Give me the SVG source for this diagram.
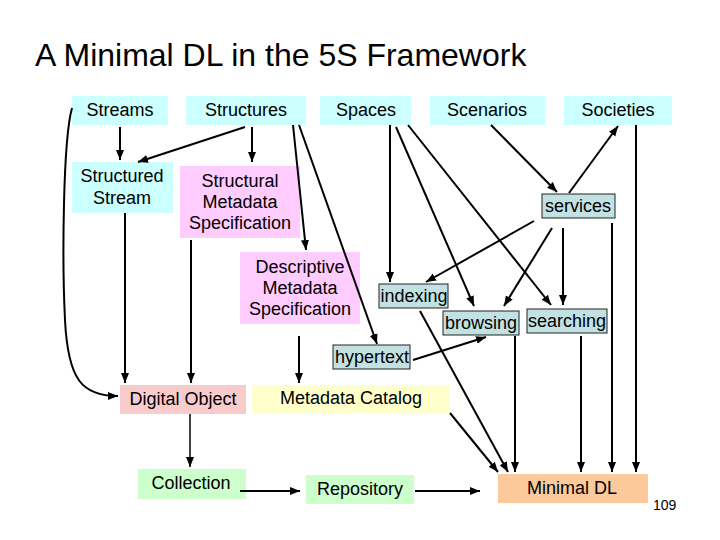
<svg xmlns="http://www.w3.org/2000/svg" width="720" height="540" viewBox="0 0 720 540">
<style>
text{font-family:"Liberation Sans",Arial,sans-serif;font-size:18px;fill:#000;text-anchor:middle}
.title{font-size:32px;text-anchor:start}
.pg{font-size:14px;text-anchor:start}
.s5{fill:#ccffff}
.svc{fill:#c2e1e3;stroke:#222;stroke-width:1}
.pink{fill:#ffccff}
.dobj{fill:#f9cccc}
.cat{fill:#ffffcc}
.grn{fill:#ccffcc}
.dl{fill:#fcc99b}
#connectors path{fill:none;stroke:#000;stroke-width:2;marker-end:url(#ah)}
</style>
<defs>
<marker id="ah" markerUnits="userSpaceOnUse" markerWidth="10" markerHeight="10" viewBox="0 0 10 10" refX="10" refY="5" orient="auto">
<path d="M0,1 L10,5 L0,9 z" fill="#000"/>
</marker>
</defs>
<rect width="720" height="540" fill="#fff"/>
<text class="title" x="35" y="66">A Minimal DL in the 5S Framework</text>

<g id="streams"><rect class="s5" x="72" y="96" width="96" height="29"/><text x="120" y="116">Streams</text></g>
<g id="structures"><rect class="s5" x="186" y="96" width="120" height="29"/><text x="246" y="116">Structures</text></g>
<g id="spaces"><rect class="s5" x="320" y="96" width="91" height="29"/><text x="366" y="116">Spaces</text></g>
<g id="scenarios"><rect class="s5" x="430" y="96" width="115" height="29"/><text x="487" y="116">Scenarios</text></g>
<g id="societies"><rect class="s5" x="564" y="96" width="108" height="29"/><text x="618" y="116">Societies</text></g>
<g id="structured-stream"><rect class="s5" x="72" y="162" width="101" height="51"/><text x="122" y="182">Structured</text><text x="122" y="204">Stream</text></g>
<g id="structural-metadata"><rect class="pink" x="180" y="166" width="120" height="72"/><text x="240" y="187">Structural</text><text x="240" y="208">Metadata</text><text x="240" y="229">Specification</text></g>
<g id="services"><rect class="svc" x="542" y="194" width="73" height="24"/><text x="578" y="212">services</text></g>
<g id="descriptive-metadata"><rect class="pink" x="240" y="252" width="120" height="72"/><text x="300" y="273">Descriptive</text><text x="300" y="294">Metadata</text><text x="300" y="315">Specification</text></g>
<g id="indexing"><rect class="svc" x="379" y="284" width="69" height="24"/><text x="414" y="302">indexing</text></g>
<g id="browsing"><rect class="svc" x="443" y="311" width="76" height="24"/><text x="481" y="329">browsing</text></g>
<g id="searching"><rect class="svc" x="527" y="309" width="80" height="24"/><text x="567" y="327">searching</text></g>
<g id="hypertext"><rect class="svc" x="333" y="345" width="77" height="24"/><text x="372" y="363">hypertext</text></g>
<g id="digital-object"><rect class="dobj" x="120" y="385" width="126" height="29"/><text x="183" y="405">Digital Object</text></g>
<g id="metadata-catalog"><rect class="cat" x="252" y="385" width="197" height="28"/><text x="351" y="404">Metadata Catalog</text></g>
<g id="collection"><rect class="grn" x="138" y="469" width="108" height="30"/><text x="191" y="489">Collection</text></g>
<g id="repository"><rect class="grn" x="306" y="475" width="108" height="29"/><text x="360" y="495">Repository</text></g>
<g id="minimal-dl"><rect class="dl" x="498" y="474" width="150" height="29"/><text x="572" y="494">Minimal DL</text></g>
<text class="pg" x="653" y="510">109</text>

<g id="connectors">
<path d="M120,127 L120,160"/>
<path d="M245,127 L138,162"/>
<path d="M252,127 L252,162"/>
<path d="M293,125 L306,250"/>
<path d="M299,125 L377,344"/>
<path d="M72,108 C63,140 62,260 65,320 C68,380 82,396 118,396"/>
<path d="M125,213 L125,383"/>
<path d="M191,240 L191,383"/>
<path d="M299,336 L299,383"/>
<path d="M390,125 L390,282"/>
<path d="M396,127 L474,306"/>
<path d="M408,125 L551,305"/>
<path d="M491,125 L557,192"/>
<path d="M569,193 L618,126"/>
<path d="M534,221 L426,282"/>
<path d="M552,228 L504,306"/>
<path d="M563,228 L563,305"/>
<path d="M612,223 L612,472"/>
<path d="M636,125 L636,472"/>
<path d="M581,336 L581,472"/>
<path d="M515,336 L515,472"/>
<path d="M420,311 L508,472"/>
<path d="M450,413 L498,472"/>
<path d="M413,360 L486,337"/>
<path d="M190,414 L190,467" style="stroke-width:1.5"/>
<path d="M240,491 L300,491"/>
<path d="M415,491 L480,491"/>
</g>
</svg>
